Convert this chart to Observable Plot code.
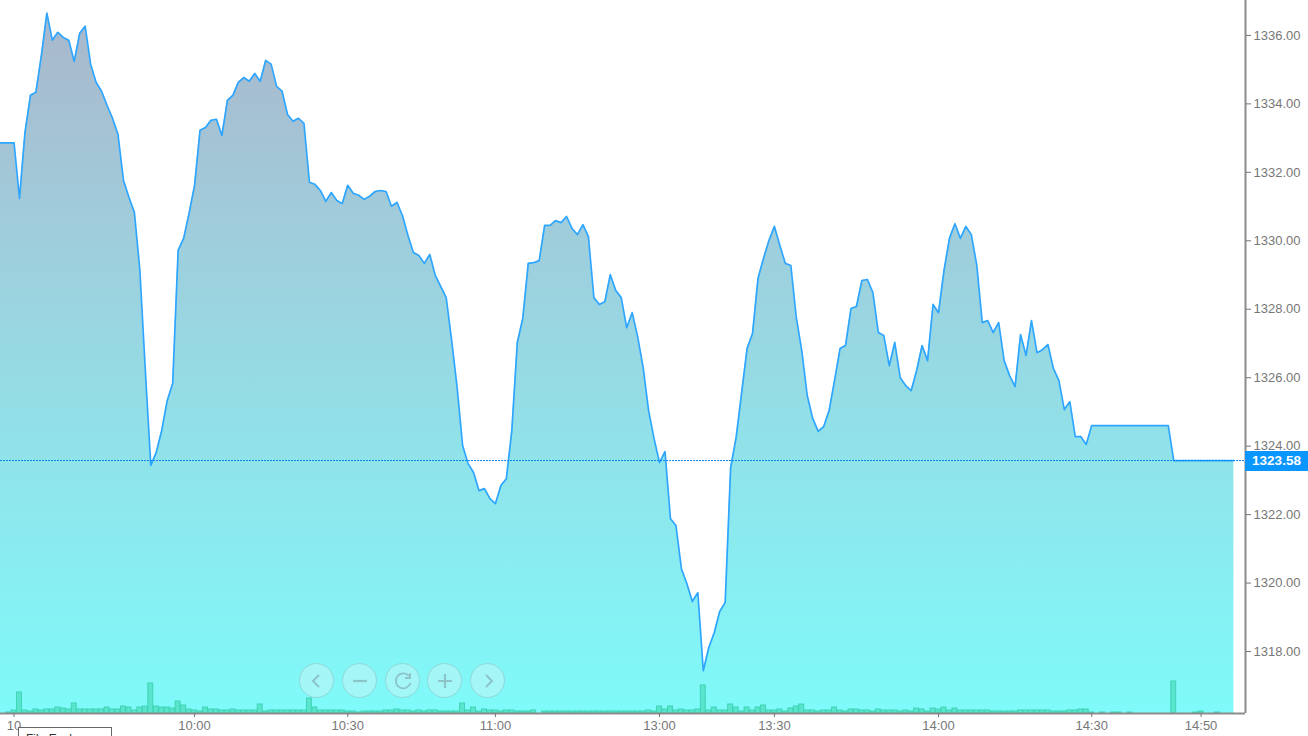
<!DOCTYPE html>
<html><head><meta charset="utf-8">
<script src="https://cdn.jsdelivr.net/npm/d3@7"></script>
<script src="https://cdn.jsdelivr.net/npm/@observablehq/plot@0.6"></script>
<style>
html,body{margin:0;padding:0;background:#fff;overflow:hidden;width:1308px;height:736px}
#wrap{position:relative;width:1308px;height:736px;overflow:hidden;font-family:"Liberation Sans",Arial,sans-serif}
.btn{position:absolute;width:33px;height:33px;border-radius:50%;background:rgba(200,245,245,.5);border:1px solid #8fd8d8;top:663px;color:#8cc4c8}
.btn svg{position:absolute;left:0;top:0}
#tag{position:absolute;left:1245px;width:63px;height:20px;background:#0a96ff;color:#fff;font-weight:bold;font-size:13.5px;line-height:20px;text-align:center}
#tip{position:absolute;left:18px;top:727px;width:94px;height:30px;background:#fff;border:1px solid #666;font-size:12px;color:#333;padding:4px 0 0 7px;box-sizing:border-box}
</style></head><body><div id="wrap"></div>
<script>
const prices = [
1332.86,1332.86,1332.86,1332.86,1331.24,1333.17,1334.25,1334.34,1335.42,1336.65,1335.86,1336.09,1335.94,1335.86,1335.24,1336.06,1336.27,1335.16,1334.63,1334.37,
1333.96,1333.58,1333.11,1331.77,1331.27,1330.83,1329.14,1326.21,1323.44,1323.82,1324.46,1325.33,1325.83,1329.72,1330.07,1330.80,1331.62,1333.23,1333.31,1333.52,
1333.55,1333.08,1334.10,1334.25,1334.63,1334.77,1334.66,1334.89,1334.66,1335.27,1335.16,1334.51,1334.37,1333.69,1333.49,1333.58,1333.43,1331.71,1331.65,1331.47,
1331.15,1331.41,1331.18,1331.09,1331.62,1331.39,1331.33,1331.21,1331.30,1331.44,1331.47,1331.44,1331.01,1331.12,1330.74,1330.16,1329.66,1329.57,1329.34,1329.60,
1328.99,1328.67,1328.34,1327.09,1325.71,1324.02,1323.49,1323.23,1322.70,1322.76,1322.47,1322.32,1322.85,1323.05,1324.46,1327.03,1327.73,1329.34,1329.36,1329.42,
1330.45,1330.45,1330.59,1330.53,1330.71,1330.36,1330.18,1330.47,1330.12,1328.34,1328.14,1328.22,1329.01,1328.55,1328.34,1327.46,1327.90,1327.20,1326.30,1325.04,
1324.22,1323.52,1323.84,1321.88,1321.68,1320.42,1319.98,1319.46,1319.72,1317.44,1318.11,1318.55,1319.17,1319.43,1323.37,1324.25,1325.54,1326.85,1327.29,1328.90,
1329.48,1330.01,1330.42,1329.86,1329.34,1329.28,1327.76,1326.79,1325.48,1324.81,1324.43,1324.57,1325.04,1325.92,1326.85,1326.94,1328.02,1328.08,1328.84,1328.87,
1328.49,1327.32,1327.23,1326.35,1327.03,1326.00,1325.77,1325.62,1326.21,1326.94,1326.50,1328.14,1327.90,1329.13,1330.07,1330.50,1330.07,1330.42,1330.18,1329.28,
1327.61,1327.67,1327.32,1327.61,1326.50,1326.06,1325.74,1327.26,1326.65,1327.67,1326.73,1326.82,1326.97,1326.27,1325.92,1325.07,1325.30,1324.28,1324.28,1324.05,
1324.60,1324.60,1324.60,1324.60,1324.60,1324.60,1324.60,1324.60,1324.60,1324.60,1324.60,1324.60,1324.60,1324.60,1324.60,
1323.58,1323.58,1323.58,1323.58,1323.58,1323.58,1323.58,1323.58,1323.58,1323.58,1323.58,1323.58];
const volumes = [
0,1,3,21,3,2,4,3,4,4,6,5,4,10,4,4,4,4,4,6,4,4,7,6,3,6,7,30,7,6,6,5,12,8,4,3,2,6,4,4,
3,3,4,3,3,3,3,9,2,3,3,3,3,3,3,3,15,6,3,3,3,3,3,2,2,1,2,2,2,2,3,3,4,3,3,2,3,2,3,3,
2,2,2,2,10,3,6,2,4,3,3,2,3,3,2,2,2,3,0,2,2,2,2,2,2,2,2,2,2,2,2,2,2,2,2,2,2,2,3,2,
7,4,7,3,4,3,3,4,28,3,6,3,3,9,6,2,6,3,6,8,3,3,4,2,5,7,9,3,3,2,3,3,6,3,2,4,4,3,3,2,
4,3,3,3,2,3,2,5,4,2,5,4,6,3,5,3,3,3,3,3,3,2,2,2,2,2,3,3,3,3,3,3,2,2,2,3,3,4,4,1,
0,1,0,1,1,0,1,0,0,0,0,0,0,0,32,0,0,0,1,2,0,0,1,0,0,0];
const priceTicks = [1318,1320,1322,1324,1326,1328,1330,1332,1334,1336];
const timeTicks = [2,35,63,90,120,141,171,199,219];
const timeLabels = ["10","10:00","10:30","11:00","13:00","13:30","14:00","14:30","14:50"];
const lastPrice = 1323.58;
const floorPrice = 1316.19, topPrice = 1337.02;
const volumeUnit = 1 / 34.22;

const series = prices.map((p, k) => ({i: k - 1, p}));
const bars = volumes.map((v, i) => ({i, v})).filter(d => d.v > 0);

const gradient = () => {
  const ns = "http://www.w3.org/2000/svg";
  const defs = document.createElementNS(ns, "defs");
  defs.innerHTML = `<linearGradient id="fillGrad" x1="0" y1="0" x2="0" y2="1">
    <stop offset="0" stop-color="#a9b7cb"/><stop offset="0.3" stop-color="#a0ccdb"/>
    <stop offset="0.65" stop-color="#8fe4ea"/><stop offset="1" stop-color="#7ffafa"/></linearGradient>`;
  return defs;
};

const chart = Plot.plot({
  width: 1308, height: 736,
  marginLeft: 0, marginRight: 63, marginTop: 0, marginBottom: 23,
  style: {background: "#fff", fontFamily: '"Liberation Sans",Arial,sans-serif', fontSize: "13px"},
  x: {type: "linear", domain: [-0.475, 227.12], axis: null},
  y: {type: "linear", domain: [floorPrice, topPrice], axis: null},
  marks: [
    gradient,
    Plot.areaY(series, {x: "i", y1: floorPrice, y2: "p", fill: "url(#fillGrad)", clip: true}),
    Plot.rect(bars, {x1: d => d.i - 0.45, x2: d => d.i + 0.45, y1: floorPrice, y2: d => floorPrice + d.v * volumeUnit,
      fill: "#4fdfc2", fillOpacity: 0.8, stroke: "#3fd4b4", strokeWidth: 1}),
    Plot.line(series, {x: "i", y: "p", stroke: "#2ea6ff", strokeWidth: 1.7, clip: true}),
    Plot.ruleY([lastPrice], {stroke: "#0a84f0", strokeWidth: 1, strokeDasharray: "2,1"}),
    Plot.ruleY([floorPrice], {stroke: "#8c8c8c", strokeWidth: 2}),
    Plot.ruleX([227.12], {stroke: "#8c8c8c", strokeWidth: 2}),
    Plot.axisY(priceTicks, {anchor: "right", label: null, tickSize: 5, tickPadding: 3, stroke: "#777",
      tickFormat: d => d.toFixed(2), fill: "#777", fontSize: 13}),
    Plot.axisX(timeTicks, {anchor: "bottom", label: null, tickSize: 4, tickPadding: 3, stroke: "#777", fill: "#777", fontSize: 13,
      tickFormat: d => timeLabels[timeTicks.indexOf(d)]})
  ]
});
const wrap = document.getElementById("wrap");
wrap.appendChild(chart);

const tagY = chart.scale("y").apply(lastPrice);
const tag = document.createElement("div");
tag.id = "tag"; tag.textContent = "1323.58"; tag.style.top = (tagY - 9.5) + "px";
wrap.appendChild(tag);

const glyphs = [
  '<path d="M19 11l-6 6 6 6" fill="none" stroke="currentColor" stroke-width="2"/>',
  '<path d="M10 17h14" fill="none" stroke="currentColor" stroke-width="2.2"/>',
  '<path d="M23 12a7.5 7.5 0 1 0 1.5 7M24 9v5h-5" fill="none" stroke="currentColor" stroke-width="1.8"/>',
  '<path d="M10 17h14M17 10v14" fill="none" stroke="currentColor" stroke-width="2.2"/>',
  '<path d="M15 11l6 6-6 6" fill="none" stroke="currentColor" stroke-width="2"/>'];
[299, 342, 384.5, 427, 469.5].forEach((left, n) => {
  const b = document.createElement("div");
  b.className = "btn"; b.style.left = left + "px";
  b.innerHTML = `<svg width="33" height="33">${glyphs[n]}</svg>`;
  wrap.appendChild(b);
});
const tip = document.createElement("div");
tip.id = "tip"; tip.textContent = "File Explorer";
wrap.appendChild(tip);
</script></body></html>
